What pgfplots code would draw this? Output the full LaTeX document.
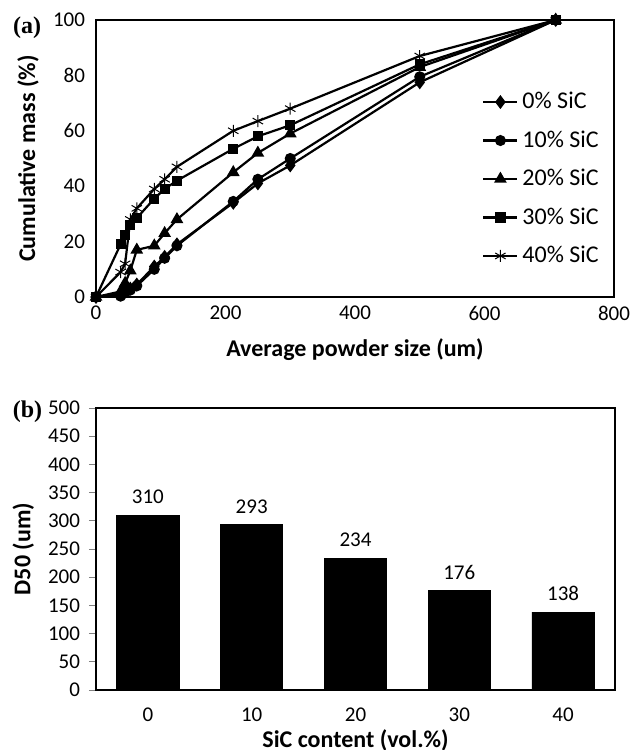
\documentclass[border=0pt]{standalone}
\usepackage{fontspec}
\setmainfont{Carlito}
\newfontfamily\timesfont{Liberation Serif}
\usepackage{pgfplots}
\pgfplotsset{compat=1.18}

\begin{document}
\begin{tikzpicture}
\useasboundingbox (0,0) rectangle (315.5bp,375bp);

% (a) cumulative mass
\begin{axis}[
  at={(48bp,226.5bp)}, anchor=south west,
  scale only axis, width=259bp, height=138.5bp,
  xmin=0, xmax=800, ymin=0, ymax=100,
  xtick={0,200,...,800}, ytick={0,20,...,100},
  major tick length=0pt,
  axis line style={line width=0.9bp},
  tick label style={font=\fontsize{10.5bp}{12bp}\selectfont},
  /pgf/number format/assume math mode=true,
  xticklabel style={yshift=-1bp},
  yticklabel style={xshift=-2bp},
  xlabel={\bfseries Average powder size (um)},
  ylabel={\bfseries Cumulative mass (\%)},
  label style={font=\fontsize{12bp}{14bp}\selectfont},
  xlabel style={at={(axis description cs:0.5,-0.191)}, anchor=center},
  ylabel style={at={(axis description cs:-0.131,0.5)}, anchor=center},
  legend style={draw=none, fill=none, at={(0.745,0.426)}, anchor=west,
    font=\fontsize{12bp}{14bp}\selectfont, row sep=5.5bp, inner sep=0pt},
  legend cell align=left,
  every axis plot/.append style={black, line width=1.1bp, mark options={solid, fill=black}},
]
\addplot[mark=diamond*, mark size=2.6bp] coordinates {
(0,0) (38,1) (45,2) (53,3) (63,4.5) (90,11) (106,14.5) (125,19) (212,34) (250,41) (300,47.5) (500,77.5) (710,100)};
\addlegendentry{0\% SiC}
\addplot[mark=*, mark size=2.2bp] coordinates {
(0,0) (38,0.3) (45,1.5) (53,2.5) (63,4) (90,10) (106,14) (125,18.5) (212,34.5) (250,42.5) (300,50) (500,79.5) (710,100)};
\addlegendentry{10\% SiC}
\addplot[mark=triangle*, mark size=2.6bp] coordinates {
(0,0) (38,2) (45,5) (53,9.5) (63,17) (90,18.5) (106,23) (125,28) (212,45) (250,52) (300,59) (500,83) (710,100)};
\addlegendentry{20\% SiC}
\addplot[mark=square*, mark size=2bp] coordinates {
(0,0) (38,19) (45,22.5) (53,26) (63,28.5) (90,35.5) (106,39) (125,42) (212,53.5) (250,58) (300,62) (500,84) (710,100)};
\addlegendentry{30\% SiC}
\addplot[mark=asterisk, mark size=3bp, mark options={line width=0.5bp}] coordinates {
(0,0) (38,9) (45,12) (53,28) (63,32) (90,39) (106,42.5) (125,47) (212,60) (250,63.5) (300,68) (500,87) (710,100)};
\addlegendentry{40\% SiC}
\end{axis}
\node[font=\timesfont\bfseries\fontsize{12bp}{14bp}\selectfont] at (13.5bp,361bp) {(a)};

% (b) D50
\begin{axis}[
  at={(48bp,30bp)}, anchor=south west,
  scale only axis, width=259.5bp, height=141bp,
  xmin=-0.5, xmax=4.5, ymin=0, ymax=500,
  xtick=data, xticklabels={0,10,20,30,40},
  ytick={0,50,...,500},
  xtick style={draw=none},
  ytick style={line width=0.5bp},
  major tick length=3.5bp,
  tick align=outside, ytick pos=left,
  axis line style={line width=0.6bp},
  tick label style={font=\fontsize{10.5bp}{12bp}\selectfont},
  /pgf/number format/assume math mode=true,
  xticklabel style={yshift=-2bp},
  yticklabel style={xshift=-1bp},
  xlabel={\bfseries SiC content (vol.\%)},
  ylabel={\bfseries D50 (um)},
  label style={font=\fontsize{12bp}{14bp}\selectfont},
  xlabel style={at={(axis description cs:0.5,-0.177)}, anchor=center},
  ylabel style={at={(axis description cs:-0.14,0.5)}, anchor=center},
  ybar, bar width=0.6,
  nodes near coords,
  nodes near coords style={font=\fontsize{10.5bp}{12bp}\selectfont, anchor=south, yshift=2bp},
]
\addplot[fill=black, draw=black] coordinates {(0,310) (1,293) (2,234) (3,176) (4,138)};
\end{axis}
\node[font=\timesfont\bfseries\fontsize{12bp}{14bp}\selectfont] at (13.75bp,169bp) {(b)};
\end{tikzpicture}
\end{document}
